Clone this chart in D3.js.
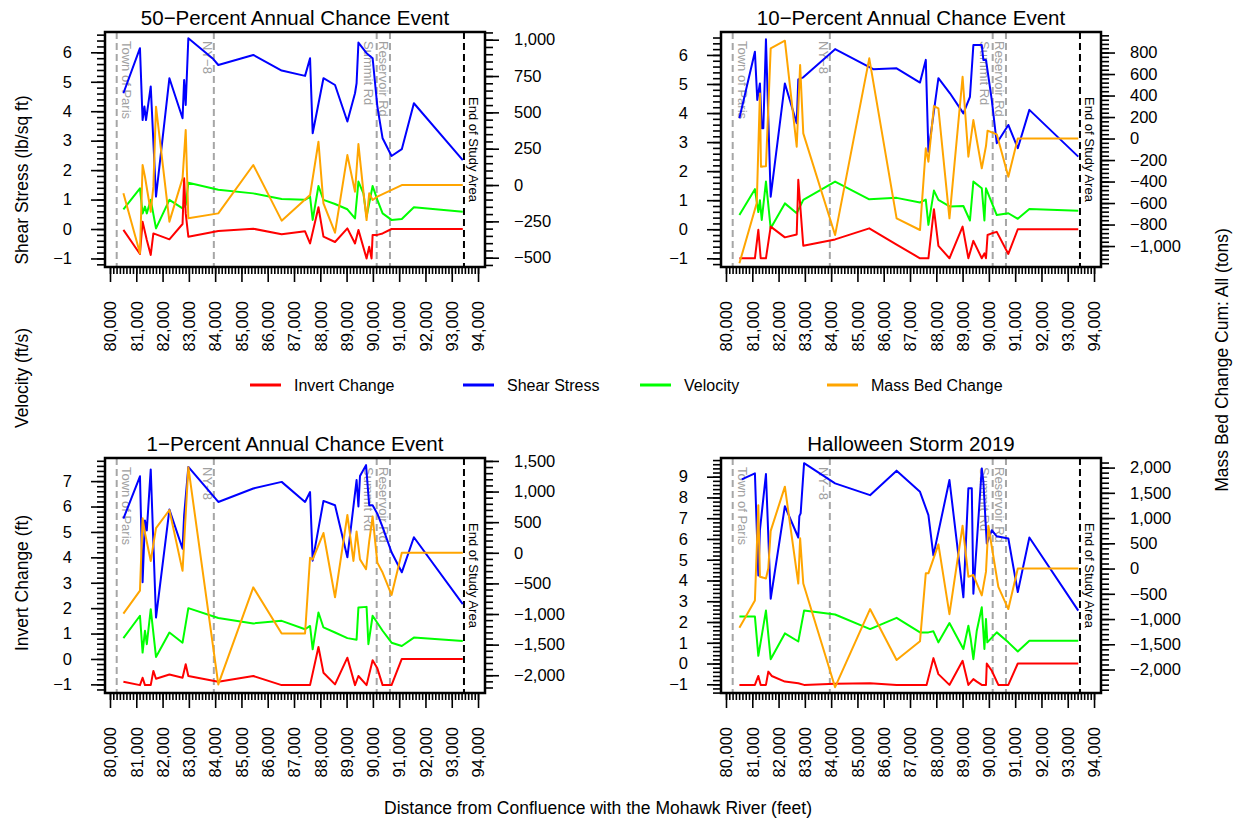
<!DOCTYPE html>
<html>
<head>
<meta charset="utf-8">
<script src="https://cdn.jsdelivr.net/npm/d3@7"></script>
<style>
  body { margin: 0; background: #fff; }
  text { font-family: "Liberation Sans", Arial, sans-serif; }
</style>
</head>
<body>
<svg id="chart" width="1243" height="823"></svg>
<script>
// x axis (distance from confluence, feet)
var xLim = [79810, 94265];
var xMajor = d3.range(80000, 94001, 1000);
var xMinor = d3.range(80000, 94001, 125);

// reference cross sections
var refStations = [80255, 83950, 90145, 90650, 93465];
var refNames = ["Town of Paris", "NY\u22128", "Summit Rd", "Reservoir Rd", "End of Study Area"];

// 50-percent annual chance event
var p50Shear = [[80510,4.61],[81140,6.14],[81240,3.70],[81310,4.16],[81370,3.70],[81550,4.84],[81750,1.10],[82260,5.12],[82760,3.76],[82820,5.06],[82880,4.21],[82980,6.48],[83930,5.77],[84120,5.57],[85450,5.91],[86530,5.38],[87420,5.20],[87610,5.80],[87710,3.25],[88120,5.12],[88560,4.89],[89030,3.65],[89320,4.61],[89380,4.95],[89450,6.33],[89760,5.97],[89990,5.80],[90170,4.16],[90370,3.08],[90710,2.48],[91100,2.71],[91560,4.27],[93420,2.34]];
var p50Velocity = [[80510,0.67],[81140,1.38],[81240,0.53],[81330,0.76],[81400,0.53],[81550,0.99],[81750,0.02],[82260,0.99],[82760,0.70],[82880,0.82],[82980,1.57],[84120,1.33],[85450,1.21],[86530,1.02],[87420,0.99],[87610,1.10],[87710,0.31],[87930,1.46],[88120,0.99],[88560,0.85],[89030,0.67],[89320,0.36],[89450,1.61],[89640,1.21],[89760,0.42],[89990,1.46],[90170,0.99],[90370,0.53],[90710,0.31],[91100,0.34],[91560,0.74],[93420,0.59]];
var p50Invert = [[80510,-0.03],[81140,-0.85],[81240,0.25],[81400,-0.37],[81550,-0.88],[81650,-0.15],[82260,-0.35],[82760,0.17],[82820,1.72],[82880,0.53],[82980,-0.26],[84120,-0.07],[85450,0.01],[86530,-0.18],[87420,-0.08],[87610,-0.49],[87930,0.74],[88120,-0.26],[88560,-0.44],[89030,0.02],[89320,-0.49],[89450,-0.03],[89760,-1.0],[89860,-0.6],[89950,-1.0],[89990,-0.2],[90170,-0.2],[90370,-0.15],[90710,0],[93420,0]];
var p50Mass = [[80510,-57],[81140,-470],[81240,138],[81330,57],[81550,-184],[81650,-11],[81750,539],[82260,-252],[82760,46],[82880,379],[82980,-229],[84120,-195],[85450,138],[86530,-245],[87610,-69],[87930,298],[88120,-126],[88560,-328],[89030,206],[89320,-46],[89450,282],[89640,-46],[89760,-241],[89860,-57],[89990,-103],[90170,-80],[91100,0],[93420,0]];

// 10-percent annual chance event
var p10Shear = [[80510,3.82],[81100,6.11],[81190,4.45],[81290,5.02],[81360,3.48],[81420,3.48],[81520,6.54],[81700,1.12],[82240,5.02],[82690,3.65],[82750,5.16],[82940,5.23],[84150,6.20],[85600,5.51],[86490,5.54],[87380,5.05],[87600,5.83],[87700,2.67],[88080,5.20],[88520,4.68],[89030,3.99],[89280,4.56],[89410,6.34],[89730,6.34],[89790,5.83],[89890,5.83],[90110,4.45],[90300,2.96],[90740,3.59],[91100,2.79],[91540,4.11],[93400,2.50]];
var p10Velocity = [[80510,0.49],[81100,1.38],[81230,0.59],[81290,1.00],[81360,0.32],[81520,1.64],[81700,0.03],[82240,0.89],[82690,0.55],[82940,1.01],[84150,1.64],[85450,1.03],[86490,1.08],[87380,0.92],[87600,1.02],[87700,0.15],[87910,1.33],[88080,1.01],[88520,0.78],[89030,0.80],[89280,0.30],[89410,1.64],[89730,1.41],[89830,0.30],[89890,1.41],[90300,0.49],[90740,0.55],[91100,0.36],[91540,0.70],[93400,0.64]];
var p10Invert = [[80510,-1.0],[81100,-1.0],[81230,-0.02],[81320,-1.0],[81520,-1.0],[81700,0.09],[82240,-0.28],[82690,-0.18],[82750,1.70],[82940,-0.57],[84150,-0.35],[85450,0.03],[86490,-0.53],[87380,-1.0],[87700,-1.0],[87910,0.69],[88080,-0.57],[88500,-1.0],[89000,0.09],[89220,-1.0],[89410,-0.40],[89730,-1.0],[89830,-0.83],[89890,-1.0],[89950,-0.2],[90110,-0.14],[90300,-0.09],[90740,-0.85],[91100,0],[93400,0]];
var p10Mass = [[80510,-1161],[81170,-600],[81290,420],[81330,-262],[81520,-257],[81700,839],[82240,910],[82690,-76],[82820,684],[82940,48],[84150,-898],[85450,746],[86490,-742],[87380,-851],[87600,-91],[87700,-216],[87910,302],[88080,281],[88500,-742],[89000,575],[89220,-169],[89410,172],[89540,-14],[89730,-277],[89890,-70],[89950,73],[90300,39],[90740,-355],[91100,0],[93400,0]];

// 1-percent annual chance event
var p1Shear = [[80510,5.52],[81140,7.19],[81240,3.02],[81330,5.45],[81400,5.06],[81550,7.46],[81750,1.63],[82260,5.88],[82760,4.34],[82820,5.65],[82980,7.56],[84120,6.18],[85450,6.71],[86530,6.97],[87420,6.18],[87610,6.57],[87710,3.87],[88120,6.22],[88560,6.05],[89030,4.0],[89380,7.04],[89450,6.0],[89510,7.2],[89740,7.63],[89860,6.05],[89990,6.05],[90170,5.72],[90370,5.19],[90710,4.20],[91100,3.41],[91560,4.79],[93420,2.16]];
var p1Velocity = [[80510,0.82],[81140,1.70],[81240,0.25],[81330,1.11],[81400,0.58],[81550,1.96],[81750,0.08],[82260,1.04],[82760,0.64],[82980,2.0],[84120,1.61],[85450,1.40],[86530,1.50],[87420,1.17],[87610,1.30],[87710,0.38],[87930,1.83],[88120,1.24],[88560,1.04],[89030,0.82],[89380,0.76],[89450,2.03],[89760,2.05],[89830,0.58],[89990,1.70],[90370,1.11],[90710,0.64],[91100,0.51],[91560,0.84],[93420,0.71]];
var p1Invert = [[80510,-0.90],[81140,-1.03],[81240,-0.74],[81330,-1.03],[81550,-1.03],[81650,-0.47],[81750,-0.78],[82260,-0.61],[82760,-0.74],[82880,-0.21],[82980,-0.67],[84120,-0.90],[85450,-0.67],[86530,-1.03],[87610,-1.03],[87930,0.47],[88120,-0.54],[88560,-1.0],[89030,0.05],[89320,-1.03],[89450,-0.67],[89760,-1.03],[89990,-0.05],[90170,-0.37],[90370,-1.03],[90710,-1.03],[91100,0],[93420,0]];
var p1Mass = [[80510,-995],[81140,-618],[81240,565],[81330,323],[81550,-134],[81750,403],[82260,699],[82760,-295],[82980,1398],[84120,-2150],[85450,-565],[86530,-1317],[87420,-1317],[87610,-81],[87710,-108],[88120,323],[88560,-726],[89030,618],[89260,-134],[89380,349],[89510,-108],[89740,-269],[89860,188],[89990,591],[90170,-161],[90370,-323],[90710,-688],[91100,0],[93420,0]];

// Halloween storm 2019
var hwShear = [[80600,8.87],[81100,9.16],[81230,4.24],[81290,6.42],[81520,9.13],[81700,3.12],[82240,7.58],[82750,6.07],[82790,7.10],[82840,7.23],[82970,9.65],[84150,8.68],[85480,8.11],[86490,9.29],[87380,8.27],[87700,7.15],[87890,5.21],[88500,8.84],[89030,3.19],[89220,8.44],[89350,8.44],[89410,3.36],[89730,9.40],[89790,8.76],[89920,5.78],[90110,6.42],[90300,6.13],[90740,6.02],[91100,3.44],[91540,6.07],[93400,2.55]];
var hwVelocity = [[80510,2.26],[81100,2.26],[81230,0.37],[81520,2.55],[81700,0.21],[82240,1.45],[82750,1.06],[82970,2.55],[84150,2.36],[85480,1.66],[86490,2.20],[87380,1.50],[87700,1.50],[87890,1.55],[88080,1.02],[88500,1.95],[89030,0.70],[89220,1.82],[89310,1.18],[89410,0.21],[89540,1.58],[89730,2.71],[89830,0.70],[89890,2.15],[89940,1.02],[90300,1.50],[90740,1.02],[91100,0.58],[91540,1.10],[93400,1.10]];
var hwInvert = [[80510,-1.03],[81100,-1.03],[81230,-0.60],[81320,-1.03],[81520,-1.03],[81610,-0.39],[81740,-0.60],[82240,-0.87],[82750,-0.95],[82970,-1.03],[84150,-0.97],[85480,-0.95],[86490,-1.03],[87630,-1.03],[87890,0.26],[88080,-0.51],[88500,-1.03],[89000,0.13],[89220,-1.03],[89410,-0.75],[89540,-0.87],[89730,-1.03],[89890,-1.03],[89920,0],[90110,-0.35],[90360,-1.03],[90740,-1.03],[91100,0],[93400,0]];
var hwMass = [[80510,-1172],[81100,-632],[81230,1253],[81290,-162],[81520,-196],[81610,6],[81700,747],[82240,1622],[82750,-297],[82820,600],[82940,-297],[84150,-2350],[85480,-802],[86490,-1812],[87380,-1440],[87600,-95],[87700,-95],[88080,479],[88500,-903],[89000,848],[89220,-162],[89410,-128],[89730,-532],[89890,-61],[89980,848],[90360,-364],[90740,-802],[91100,0],[93400,0]];

// axis limits and right-axis tick steps
var p50LeftLim = [-1.29, 6.69], p50RightLim = [-564, 1053], p50RightStep = 250;
var p10LeftLim = [-1.30, 6.79], p10RightLim = [-1195, 991], p10RightStep = 200;
var p1LeftLim = [-1.34, 7.91], p1RightLim = [-2290, 1548], p1RightStep = 500;
var hwLeftLim = [-1.42, 9.90], hwRightLim = [-2465, 2190], hwRightStep = 500;

var titles = ["50\u2212Percent Annual Chance Event", "10\u2212Percent Annual Chance Event",
              "1\u2212Percent Annual Chance Event", "Halloween Storm 2019"];

var seriesNames = ["Invert Change", "Shear Stress", "Velocity", "Mass Bed Change"];
var colors = {shear: "#0000ff", vel: "#00ff00", inv: "#ff0000", mass: "#ffa500"};

var svg = d3.select("#chart");
var panelW = 380, panelH = 235;

var panels = [
  {left: 105, top: 32, shear: p50Shear, vel: p50Velocity, inv: p50Invert, mass: p50Mass, lim: p50LeftLim, lim2: p50RightLim, step2: p50RightStep},
  {left: 721, top: 32, shear: p10Shear, vel: p10Velocity, inv: p10Invert, mass: p10Mass, lim: p10LeftLim, lim2: p10RightLim, step2: p10RightStep},
  {left: 105, top: 458, shear: p1Shear, vel: p1Velocity, inv: p1Invert, mass: p1Mass, lim: p1LeftLim, lim2: p1RightLim, step2: p1RightStep},
  {left: 721, top: 458, shear: hwShear, vel: hwVelocity, inv: hwInvert, mass: hwMass, lim: hwLeftLim, lim2: hwRightLim, step2: hwRightStep}
];

function stepTicks(lim, step) {
  var lo = Math.ceil(lim[0] / step - 1e-9), hi = Math.floor(lim[1] / step + 1e-9);
  return d3.range(lo, hi + 1).map(function(i) { return +(i * step).toFixed(6); });
}

function styleAxis(g, size) {
  g.select(".domain").remove();
  g.selectAll("line").attr("stroke", "#000").attr("stroke-width", 1.6);
  g.selectAll("text").attr("font-size", size).attr("fill", "#000")
    .attr("font-family", "'Liberation Sans', Arial, sans-serif");
}

// label placement next to the reference lines
var refLabelDx = [10, -6, -8, -6, 10];

panels.forEach(function(p, i) {
  var g = svg.append("g").attr("transform", `translate(${p.left},${p.top})`);

  var x = d3.scaleLinear().domain(xLim).range([0, panelW]);
  var y = d3.scaleLinear().domain(p.lim).range([panelH, 0]);
  var y2 = d3.scaleLinear().domain(p.lim2).range([panelH, 0]);

  // reference lines
  refStations.forEach(function(s, k) {
    var last = k === refStations.length - 1;
    g.append("line")
      .attr("x1", x(s)).attr("x2", x(s))
      .attr("y1", 0).attr("y2", panelH)
      .attr("stroke", last ? "#000" : "#a6a6a6")
      .attr("stroke-width", 2)
      .attr("stroke-dasharray", "7,4");
    g.append("text")
      .attr("transform", `translate(${x(s) + refLabelDx[k]},${last ? panelH / 2 : 9}) rotate(90)`)
      .attr("text-anchor", last ? "middle" : "start")
      .attr("dominant-baseline", "central")
      .attr("font-size", 13)
      .attr("fill", last ? "#000" : "#a0a0a0")
      .text(refNames[k]);
  });

  // series
  var lineL = d3.line().x(function(d) { return x(d[0]); }).y(function(d) { return y(d[1]); });
  var lineR = d3.line().x(function(d) { return x(d[0]); }).y(function(d) { return y2(d[1]); });

  [["shear", lineL], ["vel", lineL], ["inv", lineL], ["mass", lineR]].forEach(function(s) {
    g.append("path")
      .datum(p[s[0]])
      .attr("fill", "none")
      .attr("stroke", colors[s[0]])
      .attr("stroke-width", 2)
      .attr("stroke-linejoin", "round")
      .attr("d", s[1]);
  });

  // frame
  g.append("rect")
    .attr("width", panelW).attr("height", panelH)
    .attr("fill", "none").attr("stroke", "#000").attr("stroke-width", 2.5);

  // left axis
  g.append("g")
    .call(d3.axisLeft(y).tickValues(stepTicks(p.lim, 0.2)).tickSize(8).tickFormat(""))
    .call(styleAxis, 16);
  g.append("g")
    .call(d3.axisLeft(y).tickValues(stepTicks(p.lim, 1)).tickSize(14).tickPadding(19).tickFormat(d3.format("d")))
    .call(styleAxis, 16.5);

  // right axis
  g.append("g")
    .attr("transform", `translate(${panelW},0)`)
    .call(d3.axisRight(y2).tickValues(stepTicks(p.lim2, p.step2 / 5)).tickSize(8).tickFormat(""))
    .call(styleAxis, 16);
  g.append("g")
    .attr("transform", `translate(${panelW},0)`)
    .call(d3.axisRight(y2).tickValues(stepTicks(p.lim2, p.step2)).tickSize(14).tickPadding(15).tickFormat(d3.format(",")))
    .call(styleAxis, 16.5);

  // bottom axis
  g.append("g")
    .attr("transform", `translate(0,${panelH})`)
    .call(d3.axisBottom(x).tickValues(xMinor).tickSize(7).tickFormat(""))
    .call(styleAxis, 16);
  var xAxis = g.append("g")
    .attr("transform", `translate(0,${panelH})`)
    .call(d3.axisBottom(x).tickValues(xMajor).tickSize(15).tickFormat(d3.format(",")))
    .call(styleAxis, 16.5);
  xAxis.selectAll("text")
    .attr("transform", "rotate(-90)")
    .attr("text-anchor", "end")
    .attr("x", -34)
    .attr("y", 0)
    .attr("dy", "0.35em");

  // title
  g.append("text")
    .attr("x", panelW / 2).attr("y", -7)
    .attr("text-anchor", "middle")
    .attr("font-size", 20.5)
    .text(titles[i]);
});

// axis titles
var leftTitles = [["Shear Stress (lb/sq ft)", 180], ["Velocity (ft/s)", 378], ["Invert Change (ft)", 583]];
leftTitles.forEach(function(t) {
  svg.append("text")
    .attr("transform", `translate(22,${t[1]}) rotate(-90)`)
    .attr("text-anchor", "middle")
    .attr("dominant-baseline", "central")
    .attr("font-size", 17.5)
    .text(t[0]);
});
svg.append("text")
  .attr("transform", "translate(1222,360) rotate(-90)")
  .attr("text-anchor", "middle")
  .attr("dominant-baseline", "central")
  .attr("font-size", 17.5)
  .text("Mass Bed Change Cum: All (tons)");
svg.append("text")
  .attr("x", 598).attr("y", 808)
  .attr("text-anchor", "middle")
  .attr("dominant-baseline", "central")
  .attr("font-size", 17.5)
  .text("Distance from Confluence with the Mohawk River (feet)");

// legend
var legendX = [250, 463, 640, 827];
var legendColors = [colors.inv, colors.shear, colors.vel, colors.mass];
var legend = svg.append("g").attr("transform", "translate(0,385)");
seriesNames.forEach(function(name, k) {
  legend.append("line")
    .attr("x1", legendX[k]).attr("x2", legendX[k] + 31)
    .attr("stroke", legendColors[k]).attr("stroke-width", 3);
  legend.append("text")
    .attr("x", legendX[k] + 44)
    .attr("dominant-baseline", "central")
    .attr("font-size", 16)
    .text(name);
});
</script>
</body>
</html>
